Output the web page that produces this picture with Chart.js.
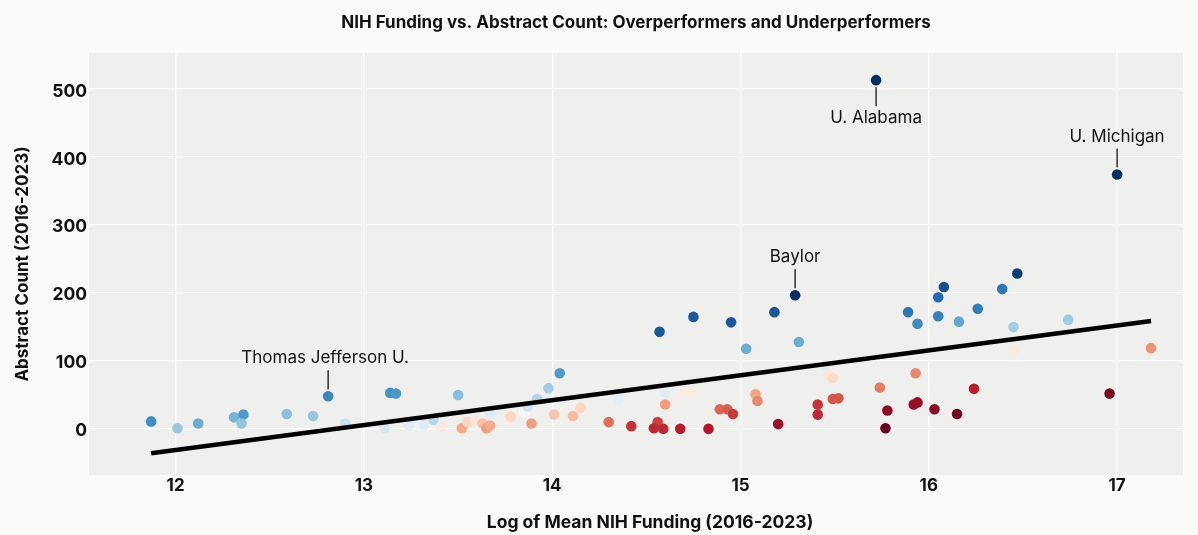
<!DOCTYPE html>
<html>
<head>
<meta charset="utf-8">
<script src="https://cdn.jsdelivr.net/npm/chart.js@4.4.1/dist/chart.umd.min.js"></script>
<style>
  html, body { margin: 0; padding: 0; background: #fafaf9; }
  #wrap { width: 1198px; height: 535px; position: relative; }
</style>
</head>
<body>
<div id="wrap"><canvas id="c" width="1198" height="535"></canvas></div>
<script>
// ---- Data ----
const logFunding = [
  11.87, 12.01, 12.12, 12.31, 12.36, 12.35, 12.59, 12.73, 12.81, 12.90,
  13.11, 13.14, 13.17, 13.24, 13.30, 13.32, 13.37, 13.41, 13.50, 13.52,
  13.55, 13.59, 13.63, 13.65, 13.67, 13.67, 13.78, 13.85, 13.87, 13.89,
  13.92, 13.98, 14.01, 14.04, 14.11, 14.15, 14.30, 14.35, 14.42, 14.57,
  14.60, 14.60, 14.56, 14.54, 14.59, 14.68, 14.75, 14.69, 14.74, 14.83,
  14.89, 14.93, 14.96, 14.95, 15.03, 15.08, 15.09, 15.18, 15.20, 15.29,
  15.31, 15.41, 15.41, 15.45, 15.47, 15.49, 15.49, 15.52, 15.72, 15.74,
  15.78, 15.77, 15.89, 15.94, 15.92, 15.94, 15.93, 16.03, 16.05, 16.05,
  16.08, 16.15, 16.16, 16.24, 16.26, 16.39, 16.45, 16.45, 16.47, 16.74,
  16.96, 17.00, 17.18
];
const abstractCount = [
  10, 0, 7, 16, 20, 7, 21, 18, 47, 7,
  0, 52, 51, 4, 3, 5, 12, 3, 49, 0,
  9, 11, 7, 0, 4, 19, 17, 23, 32, 7,
  43, 59, 20, 81, 18, 30, 9, 42, 3, 142,
  52, 35, 9, 0, -1, -1, 164, 52, 53, -1,
  28, 28, 21, 156, 117, 50, 40, 171, 6, 196,
  127, 35, 20, 93, 78, 74, 43, 44, 513, 60,
  26, 0, 171, 154, 35, 38, 81, 28, 165, 193,
  208, 21, 157, 58, 176, 205, 149, 115, 228, 160,
  51, 374, 118
];
// Relative performance (colour value, -1 = strong underperformer, +1 = strong overperformer)
const performance = [
  0.62, 0.38, 0.50, 0.47, 0.57, 0.40, 0.42, 0.38, 0.65, 0.22,
  0.18, 0.60, 0.58, 0.12, 0.05, 0.12, 0.28, -0.10, 0.42, -0.38,
  -0.22, -0.12, -0.30, -0.42, -0.38, 0.12, -0.22, 0.00, 0.20, -0.42,
  0.30, 0.35, -0.28, 0.57, -0.32, -0.22, -0.55, 0.10, -0.72, 0.85,
  0.12, -0.42, -0.68, -0.75, -0.75, -0.78, 0.85, -0.08, -0.08, -0.80,
  -0.58, -0.60, -0.70, 0.85, 0.50, -0.40, -0.48, 0.86, -0.87, 1.00,
  0.50, -0.72, -0.75, 0.12, -0.12, -0.20, -0.62, -0.62, 1.00, -0.52,
  -0.90, -1.00, 0.72, 0.63, -0.88, -0.88, -0.48, -0.90, 0.68, 0.78,
  0.88, -0.97, 0.52, -0.78, 0.70, 0.72, 0.35, -0.10, 0.95, 0.36,
  -0.95, 1.00, -0.45
];
// Trend line end points
const trendX = [11.87, 17.18];
const trendY = [-37, 158];
// Annotated institutions
const labelNames = ['Thomas Jefferson U.', 'Baylor', 'U. Alabama', 'U. Michigan'];
const labelX = [12.81, 15.29, 15.72, 17.00];
const labelY = [47, 196, 513, 374];
const labelSide = ['above', 'above', 'below', 'above'];
// Axis ticks
const xTicks = [12, 13, 14, 15, 16, 17];
const yTicks = [0, 100, 200, 300, 400, 500];

// ---- RdBu colour map ----
const rdbu = ['#67001f','#b2182b','#d6604d','#f4a582','#fddbc7','#f7f7f7','#d1e5f0','#92c5de','#4393c3','#2166ac','#053061'];
function hex2rgb(h){ return [parseInt(h.substr(1,2),16),parseInt(h.substr(3,2),16),parseInt(h.substr(5,2),16)]; }
function cmap(t){
  t = Math.max(0, Math.min(1, t));
  const p = t * 10, i = Math.min(9, Math.floor(p)), f = p - i;
  const a = hex2rgb(rdbu[i]), b = hex2rgb(rdbu[i+1]);
  return 'rgb(' + a.map((v,k)=>Math.round(v + (b[k]-v)*f)).join(',') + ')';
}
const pointColors = performance.map(v => cmap(0.5 + 0.5 * v));

const FONT = 'Inter, "Noto Sans", sans-serif';
const X_TITLE = 'Log of Mean NIH Funding (2016-2023)';

const plotBg = {
  id: 'plotBg',
  beforeDraw(chart) {
    const {ctx, chartArea: a} = chart;
    ctx.save();
    ctx.fillStyle = '#fafaf9';
    ctx.fillRect(0, 0, chart.width, chart.height);
    ctx.fillStyle = '#efefed';
    ctx.fillRect(a.left, a.top, a.right - a.left, a.bottom - a.top);
    ctx.restore();
  },
  afterDraw(chart) {
    const {ctx, chartArea: a} = chart;
    ctx.save();
    ctx.fillStyle = '#111';
    ctx.font = 'bold 17.5px ' + FONT;
    ctx.textAlign = 'center';
    ctx.textBaseline = 'middle';
    ctx.fillText(X_TITLE, (a.left + a.right) / 2 + 14, chart.height - 12);
    ctx.restore();
  }
};

const annot = {
  id: 'annot',
  afterDatasetsDraw(chart) {
    const {ctx, scales: {x, y}} = chart;
    ctx.save();
    ctx.strokeStyle = '#111';
    ctx.lineWidth = 1.3;
    ctx.fillStyle = '#111';
    ctx.font = '17px ' + FONT;
    ctx.textAlign = 'center';
    ctx.textBaseline = 'middle';
    labelNames.forEach((name, i) => {
      const px = x.getPixelForValue(labelX[i]);
      const py = y.getPixelForValue(labelY[i]);
      const s = labelSide[i] === 'above' ? -1 : 1;
      ctx.beginPath();
      ctx.moveTo(px, py + s * 7);
      ctx.lineTo(px, py + s * 26);
      ctx.stroke();
      ctx.fillText(name, px - (i === 0 ? 3 : 0), py + s * 38);
    });
    ctx.restore();
  }
};

new Chart(document.getElementById('c'), {
  data: {
    datasets: [
      {
        type: 'line',
        data: trendX.map((v, i) => ({x: v, y: trendY[i]})),
        borderColor: '#000',
        borderWidth: 4.5,
        pointRadius: 0,
        fill: false,
        tension: 0
      },
      {
        type: 'scatter',
        data: logFunding.map((v, i) => ({x: v, y: abstractCount[i]})),
        backgroundColor: pointColors,
        borderWidth: 0,
        pointRadius: 5.3
      }
    ]
  },
  options: {
    responsive: false,
    animation: false,
    layout: { padding: { left: 0, right: 15, top: 0, bottom: 0 } },
    plugins: {
      legend: { display: false },
      tooltip: { enabled: false },
      title: {
        display: true,
        fullSize: false,
        text: 'NIH Funding vs. Abstract Count: Overperformers and Underperformers',
        color: '#111',
        font: { family: FONT, size: 17, weight: 'bold' },
        padding: { top: 12.5, bottom: 20.1 }
      }
    },
    scales: {
      x: {
        type: 'linear',
        min: 11.54,
        max: 17.35,
        afterBuildTicks: s => { s.ticks = xTicks.map(v => ({value: v})); },
        afterFit: s => { s.height = 60; },
        grid: { color: '#ffffff', lineWidth: 1.3, drawTicks: false },
        border: { display: false },
        ticks: { color: '#111', padding: 1, font: { family: FONT, size: 17, weight: 'bold' } },
        title: { display: false }
      },
      y: {
        type: 'linear',
        min: -69,
        max: 553,
        afterBuildTicks: s => { s.ticks = yTicks.map(v => ({value: v})); },
        afterFit: s => { s.width = 89; },
        grid: { color: '#ffffff', lineWidth: 1.3, drawTicks: false },
        border: { display: false },
        ticks: { color: '#111', padding: 2, labelOffset: 2.5, font: { family: FONT, size: 17.5, weight: 'bold' } },
        title: {
          display: true,
          text: 'Abstract Count (2016-2023)',
          color: '#111',
          font: { family: FONT, size: 17, weight: 'bold' },
          padding: { top: 12.8, bottom: 0 }
        }
      }
    }
  },
  plugins: [plotBg, annot]
});
</script>
</body>
</html>
